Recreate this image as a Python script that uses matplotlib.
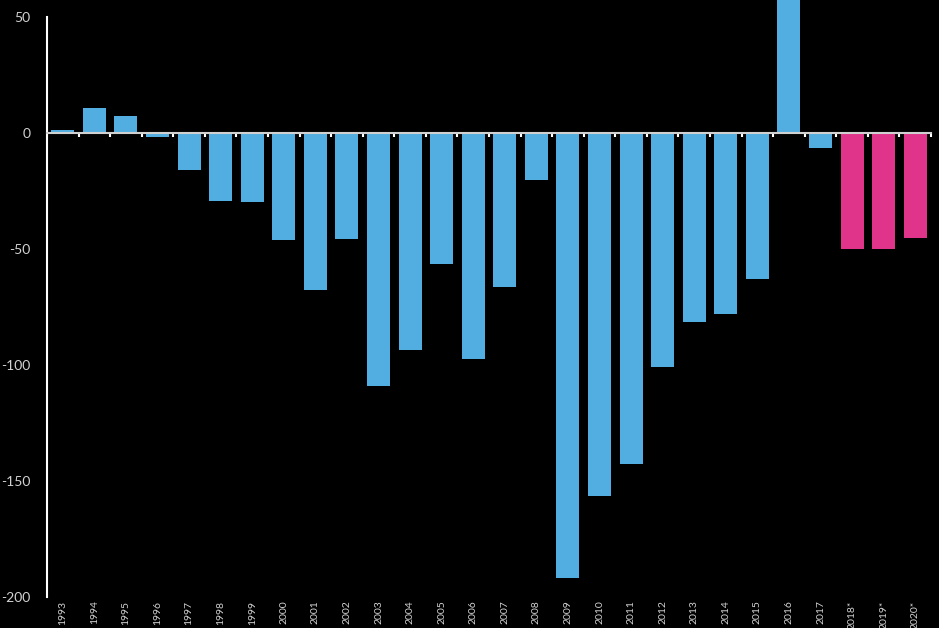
import matplotlib
matplotlib.use("Agg")
import matplotlib.pyplot as plt
import matplotlib.transforms as mtransforms

years = ["1993", "1994", "1995", "1996", "1997", "1998", "1999", "2000", "2001", "2002",
         "2003", "2004", "2005", "2006", "2007", "2008", "2009", "2010", "2011", "2012",
         "2013", "2014", "2015", "2016", "2017", "2018*", "2019*", "2020*"]
values = [1.3, 10.8, 7.3, -1.7, -16, -29.3, -29.7, -46, -67.7, -45.7,
          -109, -93.5, -56.5, -97.4, -66.4, -20.3, -192, -156.5, -142.7, -100.9,
          -81.5, -78, -63, 70, -6.5, -50, -50, -45.3]
forecast = [False] * 25 + [True] * 3

blue = "#52AEE0"
pink = "#E0338A"
txt = "#d2d2d2"

plt.rcParams['font.family'] = ['Lato', 'DejaVu Sans']

fig = plt.figure(figsize=(9.39, 6.28), dpi=100, facecolor="black")
ax = fig.add_axes([47 / 939, 31 / 628, 884 / 939, 597 / 628])
ax.set_facecolor("black")

x = list(range(len(years)))
colors = [pink if f else blue for f in forecast]
ax.bar(x, values, width=0.73, color=colors, zorder=2)

ax.set_xlim(-0.5, len(years) - 0.5)
ax.set_ylim(-200, 57.3)

for s in ["top", "right"]:
    ax.spines[s].set_visible(False)
ax.spines["left"].set_color("white")
ax.spines["left"].set_linewidth(1.5)
ax.spines["left"].set_bounds(-200, 50)
ax.spines["bottom"].set_position(("data", 0))
ax.spines["bottom"].set_color("#d0d0d0")
ax.spines["bottom"].set_linewidth(1.5)
ax.spines["bottom"].set_zorder(3)

ax.set_yticks([50, 0, -50, -100, -150, -200])
ax.set_yticklabels(["50", "0", "-50", "-100", "-150", "-200"])
ax.tick_params(axis="y", length=0, pad=12, labelcolor=txt, labelsize=10)

ax.set_xticks([i + 0.5 for i in x])
ax.set_xticklabels([])
ax.tick_params(axis="x", length=3, width=1.5, color="white", direction="out")

trans = mtransforms.blended_transform_factory(ax.transData, ax.transAxes)
for i, y in enumerate(years):
    ax.text(i, -0.006, y, transform=trans, rotation=90, ha="center", va="top",
            color=txt, fontsize=7.5, clip_on=False)

fig.savefig("out.png", dpi=100, facecolor="black")
